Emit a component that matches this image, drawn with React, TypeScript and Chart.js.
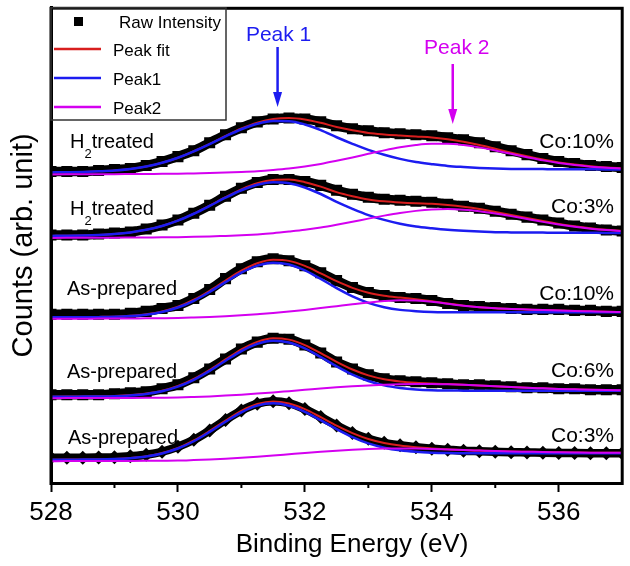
import { useEffect, useRef } from "react";
import { Chart, registerables } from "chart.js";

Chart.register(...registerables);

const FONT = "'Liberation Sans', Arial, Helvetica, sans-serif";

// Binding energy grid (eV)
const energies = [528, 528.25, 528.5, 528.75, 529, 529.25, 529.5, 529.75, 530, 530.25, 530.5, 530.75, 531, 531.25, 531.5, 531.75, 532, 532.25, 532.5, 532.75, 533, 533.25, 533.5, 533.75, 534, 534.25, 534.5, 534.75, 535, 535.25, 535.5, 535.75, 536, 536.25, 536.5, 536.75, 537];

// Spectrum A: H2 treated, Co:10% (offset counts)
const rawA = [314, 314, 314, 315, 316, 317, 320, 324, 329, 335, 343, 351, 358, 364, 367, 368, 367, 364, 360, 357, 355, 353, 352, 351, 350, 348, 346, 343, 339, 335, 331, 327, 324, 322, 320, 319, 318];
const fitA = [313.1, 313.3, 313.6, 314.2, 315.0, 316.6, 319.1, 322.8, 327.9, 334.4, 341.8, 349.8, 357.3, 363.3, 367.0, 368.0, 366.5, 363.1, 358.8, 355.5, 352.9, 351.4, 350.3, 349.3, 348.3, 346.4, 343.9, 340.7, 336.9, 333.0, 329.4, 326.0, 323.2, 321.0, 319.3, 318.0, 317.2];
const peak1A = [313.1, 313.3, 313.6, 314.2, 315.0, 316.6, 319.1, 322.8, 327.9, 334.3, 341.6, 349.4, 356.6, 362.1, 364.9, 364.7, 361.4, 355.7, 348.5, 341.9, 335.8, 330.9, 326.7, 323.5, 321.4, 319.6, 318.5, 317.6, 317.0, 316.6, 316.5, 316.4, 316.3, 316.3, 316.2, 316.1, 316.1];
const peak2A = [311.0, 311.1, 311.2, 311.3, 311.3, 311.4, 311.5, 311.6, 311.7, 312.1, 312.4, 312.9, 313.5, 314.3, 315.5, 317.0, 319.0, 321.6, 324.8, 328.2, 331.8, 335.3, 338.4, 340.7, 341.9, 341.9, 340.6, 338.3, 335.2, 331.8, 328.4, 325.2, 322.6, 320.5, 318.9, 317.8, 317.1];

// Spectrum B: H2 treated, Co:3%
const rawB = [250, 250, 250, 251, 252, 253, 256, 260, 265, 272, 280, 289, 297, 303, 306, 306, 304, 300, 295, 291, 288, 286, 285, 284, 283, 281, 279, 277, 274, 271, 268, 265, 262, 259, 257, 255, 254];
const fitB = [249.1, 249.3, 249.6, 250.1, 251.0, 252.6, 255.2, 259.1, 264.6, 271.6, 279.6, 288.2, 296.0, 302.1, 305.5, 305.9, 303.2, 298.7, 293.2, 289.1, 285.8, 283.9, 282.7, 281.9, 281.4, 280.2, 278.5, 276.2, 273.2, 270.2, 267.1, 264.0, 261.2, 258.8, 256.8, 255.2, 254.1];
const peak1B = [249.1, 249.3, 249.6, 250.1, 251.0, 252.6, 255.2, 259.1, 264.5, 271.4, 279.3, 287.6, 295.1, 300.6, 303.1, 302.2, 297.9, 291.3, 283.3, 276.3, 270.0, 265.2, 261.3, 258.5, 256.7, 255.2, 254.2, 253.5, 252.8, 252.6, 252.5, 252.4, 252.3, 252.3, 252.2, 252.1, 252.1];
const peak2B = [247.0, 247.1, 247.2, 247.3, 247.3, 247.4, 247.5, 247.6, 247.8, 248.1, 248.5, 249.1, 249.7, 250.6, 251.8, 253.4, 255.2, 257.6, 260.4, 263.4, 266.5, 269.5, 272.2, 274.3, 275.7, 276.1, 275.5, 274.0, 271.7, 269.0, 266.1, 263.2, 260.6, 258.3, 256.4, 255.0, 254.0];

// Spectrum C: As-prepared, Co:10%
const rawC = [170, 170, 170, 170, 170, 171, 173, 176, 179, 186, 195, 206, 216, 223, 226, 224, 219, 212, 204, 197, 192, 189, 187, 186, 184, 181, 179, 178, 177, 176, 175, 175, 175, 174, 174, 173, 173];
const fitC = [167.0, 167.1, 167.2, 167.4, 167.7, 168.6, 170.2, 173.0, 177.7, 184.7, 193.8, 204.1, 214.0, 221.5, 225.0, 223.9, 218.8, 211.3, 203.4, 196.7, 191.8, 188.8, 186.9, 185.2, 183.2, 180.9, 178.8, 177.2, 176.1, 175.4, 174.9, 174.4, 174.0, 173.5, 173.1, 172.7, 172.4];
const peak1C = [167.0, 167.0, 167.1, 167.2, 167.5, 168.3, 169.7, 172.4, 176.9, 183.7, 192.5, 202.5, 212.0, 219.1, 222.1, 220.3, 214.3, 205.7, 196.4, 188.1, 181.6, 177.2, 174.5, 173.2, 172.4, 172.1, 172.0, 172.0, 172.0, 172.0, 172.0, 172.0, 172.0, 172.0, 172.0, 172.0, 172.0];
const peak2C = [165.5, 165.6, 165.6, 165.7, 165.7, 165.8, 166.0, 166.1, 166.3, 166.8, 167.4, 168.2, 169.1, 170.2, 171.4, 172.9, 174.5, 176.3, 178.2, 180.1, 181.9, 183.4, 184.2, 183.9, 182.7, 180.7, 178.7, 177.2, 176.1, 175.4, 174.9, 174.4, 174.0, 173.5, 173.1, 172.7, 172.4];

// Spectrum D: As-prepared, Co:6%
const rawD = [89, 89, 89, 89, 90, 91, 92, 95, 99, 106, 115, 125, 135, 142, 146, 145, 139, 131, 122, 115, 109, 105, 103, 102, 101, 100, 99, 99, 98, 97, 96, 96, 95, 95, 94, 94, 94];
const fitD = [87.0, 87.1, 87.2, 87.4, 87.7, 88.6, 90.2, 93.0, 97.8, 104.9, 114.1, 124.6, 134.7, 142.3, 145.9, 144.5, 139.0, 130.9, 122.1, 114.4, 108.5, 104.6, 102.4, 101.1, 100.3, 99.7, 99.1, 98.3, 97.5, 96.7, 96.0, 95.4, 94.8, 94.4, 94.0, 93.7, 93.5];
const peak1D = [87.0, 87.0, 87.1, 87.2, 87.5, 88.3, 89.8, 92.5, 97.1, 104.0, 113.0, 123.2, 133.0, 140.3, 143.5, 141.7, 135.7, 127.0, 117.6, 109.3, 102.8, 98.4, 95.8, 94.3, 93.5, 93.2, 93.1, 93.0, 93.0, 93.0, 93.0, 93.0, 93.0, 93.0, 93.0, 93.0, 93.0];
const peak2D = [85.5, 85.6, 85.6, 85.7, 85.7, 85.8, 85.9, 86.0, 86.2, 86.7, 87.3, 88.1, 89.0, 90.1, 91.3, 92.6, 93.9, 95.3, 96.5, 97.5, 98.4, 99.1, 99.6, 99.8, 99.8, 99.5, 99.0, 98.3, 97.5, 96.7, 96.0, 95.4, 94.8, 94.4, 94.0, 93.7, 93.5];

// Spectrum E: As-prepared, Co:3%
const rawE = [25.5, 25.5, 25.5, 25.7, 26, 27, 28.5, 31.5, 36.5, 43.5, 53, 63.5, 73, 80, 82.5, 80.5, 74.5, 66.5, 58, 50.5, 44.5, 40.5, 38, 36, 34.5, 33.5, 32.5, 32, 31.5, 31, 30.8, 30.5, 30.3, 30.2, 30.1, 30, 30];
const fitE = [23.5, 23.6, 23.7, 23.9, 24.3, 25.3, 27.1, 30.3, 35.4, 42.9, 52.5, 63.0, 72.7, 79.6, 82.2, 80.1, 74.4, 66.3, 57.8, 50.3, 44.4, 40.4, 37.8, 36.1, 34.9, 34.0, 33.2, 32.7, 32.2, 31.8, 31.5, 31.2, 31.0, 30.8, 30.6, 30.5, 30.4];
const peak1E = [23.5, 23.5, 23.6, 23.7, 24.1, 25.0, 26.7, 29.8, 34.8, 42.1, 51.5, 61.8, 71.3, 78.0, 80.3, 77.9, 71.8, 63.3, 54.3, 46.3, 39.9, 35.6, 32.9, 31.4, 30.6, 30.2, 30.0, 30.0, 30.0, 30.0, 30.0, 30.0, 30.0, 30.0, 30.0, 30.0, 30.0];
const peak2E = [22.0, 22.1, 22.1, 22.2, 22.2, 22.3, 22.4, 22.5, 22.6, 23.1, 23.7, 24.5, 25.4, 26.5, 27.7, 29.0, 30.3, 31.5, 32.6, 33.5, 34.2, 34.7, 34.9, 34.7, 34.3, 33.8, 33.2, 32.7, 32.2, 31.8, 31.5, 31.2, 31.0, 30.8, 30.6, 30.5, 30.4];

const treatments = ["H2treated", "H2treated", "As-prepared", "As-prepared", "As-prepared"];
const cobalt = ["Co:10%", "Co:3%", "Co:10%", "Co:6%", "Co:3%"];
const legendLabels = ["Raw Intensity", "Peak fit", "Peak1", "Peak2"];
const peakNames = ["Peak 1", "Peak 2"];
const peakEnergies = [531.57, 534.33];
const minorTicks = [529, 531, 533, 535];
const xTitle = "Binding Energy (eV)";
const yTitle = "Counts (arb. unit)";

const RED = "#d81e1e";
const BLUE = "#1c1cf0";
const MAGENTA = "#d400f0";

export default function App() {
  const ref = useRef<HTMLCanvasElement | null>(null);

  useEffect(() => {
    if (!ref.current) return;
    const spectra = [
      { raw: rawA, fit: fitA, p1: peak1A, p2: peak2A, style: "rect" },
      { raw: rawB, fit: fitB, p1: peak1B, p2: peak2B, style: "rect" },
      { raw: rawC, fit: fitC, p1: peak1C, p2: peak2C, style: "rect" },
      { raw: rawD, fit: fitD, p1: peak1D, p2: peak2D, style: "rect" },
      { raw: rawE, fit: fitE, p1: peak1E, p2: peak2E, style: "rectRot" },
    ];
    const pts = (arr: number[]) => energies.map((x, i) => ({ x, y: arr[i] }));
    const datasets: any[] = [];
    spectra.forEach((s, k) => {
      const sq = s.style === "rect";
      datasets.push({
        label: legendLabels[0] + " " + k,
        data: pts(s.raw),
        borderColor: "#000",
        backgroundColor: "#000",
        borderWidth: sq ? 9.5 : 8.5,
        pointStyle: s.style,
        pointRadius: sq ? 7.8 : 7,
        pointBorderWidth: 0,
        pointBackgroundColor: "#000",
        cubicInterpolationMode: "monotone",
        order: 3,
      });
      datasets.push({
        label: legendLabels[1] + " " + k,
        data: pts(s.fit),
        borderColor: RED,
        borderWidth: 2,
        pointRadius: 0,
        cubicInterpolationMode: "monotone",
        order: 2,
      });
      datasets.push({
        label: legendLabels[2] + " " + k,
        data: pts(s.p1),
        borderColor: BLUE,
        borderWidth: 2.5,
        pointRadius: 0,
        cubicInterpolationMode: "monotone",
        order: 1,
      });
      datasets.push({
        label: legendLabels[3] + " " + k,
        data: pts(s.p2),
        borderColor: MAGENTA,
        borderWidth: 2,
        pointRadius: 0,
        cubicInterpolationMode: "monotone",
        order: 0,
      });
    });

    const decor = {
      id: "decor",
      afterDraw(chart: any) {
        const ctx = chart.ctx as CanvasRenderingContext2D;
        const a = chart.chartArea;
        const xs = chart.scales.x;
        ctx.save();
        // frame
        ctx.strokeStyle = "#000";
        ctx.lineWidth = 3;
        ctx.strokeRect(a.left, a.top + 0.5, a.right - a.left, a.bottom - a.top);
        // minor ticks
        ctx.lineWidth = 2;
        minorTicks.forEach((v) => {
          const px = xs.getPixelForValue(v);
          ctx.beginPath();
          ctx.moveTo(px, a.bottom);
          ctx.lineTo(px, a.bottom + 5);
          ctx.stroke();
        });
        // x axis title
        ctx.fillStyle = "#000";
        ctx.font = `26px ${FONT}`;
        ctx.textAlign = "center";
        ctx.textBaseline = "middle";
        ctx.fillText(xTitle, 352, 545);
        // legend box
        ctx.textBaseline = "alphabetic";
        const lx = a.left, ly = a.top, lw = 226 - a.left, lh = 120 - a.top;
        ctx.fillStyle = "#fff";
        ctx.fillRect(lx + 2, ly + 2, lw - 2, lh - 2);
        ctx.strokeStyle = "#333";
        ctx.lineWidth = 1.5;
        ctx.strokeRect(lx, ly, lw, lh);
        ctx.fillStyle = "#000";
        ctx.fillRect(74, 17, 9, 9);
        ctx.font = `17px ${FONT}`;
        ctx.textAlign = "left";
        ctx.fillText(legendLabels[0], 119, 28);
        const legendColors = [RED, BLUE, MAGENTA];
        const legendY = [49, 78, 107];
        for (let i = 0; i < 3; i++) {
          ctx.strokeStyle = legendColors[i];
          ctx.lineWidth = 2.5;
          ctx.beginPath();
          ctx.moveTo(54, legendY[i]);
          ctx.lineTo(101, legendY[i]);
          ctx.stroke();
          ctx.fillStyle = "#000";
          ctx.fillText(legendLabels[i + 1], 113, legendY[i] + 7);
        }
        // peak annotations
        const peakColors = [BLUE, MAGENTA];
        const textBase = [41, 54];
        const arrowTop = [47, 64];
        const arrowTip = [107, 124];
        for (let i = 0; i < 2; i++) {
          const px = xs.getPixelForValue(peakEnergies[i]);
          ctx.fillStyle = peakColors[i];
          ctx.strokeStyle = peakColors[i];
          ctx.font = `21px ${FONT}`;
          ctx.textAlign = "center";
          ctx.fillText(peakNames[i], px + (i === 0 ? 1 : 4), textBase[i]);
          ctx.lineWidth = 2.5;
          ctx.beginPath();
          ctx.moveTo(px, arrowTop[i]);
          ctx.lineTo(px, arrowTip[i] - 10);
          ctx.stroke();
          ctx.beginPath();
          ctx.moveTo(px - 4.5, arrowTip[i] - 15);
          ctx.lineTo(px + 4.5, arrowTip[i] - 15);
          ctx.lineTo(px, arrowTip[i]);
          ctx.closePath();
          ctx.fill();
        }
        // sample labels
        ctx.fillStyle = "#000";
        const leftBase = [148, 215, 295, 378, 444];
        const leftX = [70, 70, 67, 67, 68];
        treatments.forEach((t, i) => {
          ctx.textAlign = "left";
          if (t.startsWith("H2")) {
            ctx.font = `20px ${FONT}`;
            ctx.fillText("H", leftX[i], leftBase[i]);
            const wH = ctx.measureText("H").width;
            ctx.font = `13px ${FONT}`;
            ctx.fillText("2", leftX[i] + wH, leftBase[i] + 10);
            const w2 = ctx.measureText("2").width;
            ctx.font = `20px ${FONT}`;
            ctx.fillText(t.slice(2), leftX[i] + wH + w2, leftBase[i]);
          } else {
            ctx.font = `20px ${FONT}`;
            ctx.fillText(t, leftX[i], leftBase[i]);
          }
        });
        const rightBase = [148, 213, 300, 377, 442];
        ctx.font = `21px ${FONT}`;
        ctx.textAlign = "right";
        cobalt.forEach((c, i) => ctx.fillText(c, 614, rightBase[i]));
        ctx.restore();
      },
    };

    const chart = new Chart(ref.current, {
      type: "line",
      data: { datasets },
      options: {
        responsive: false,
        animation: false,
        devicePixelRatio: 1,
        events: [],
        layout: { padding: { top: 4, right: 4, left: 0, bottom: 0 } },
        plugins: { legend: { display: false }, tooltip: { enabled: false } },
        scales: {
          x: {
            type: "linear",
            min: 528,
            max: 537,
            afterFit: (s: any) => {
              s.height = 83;
            },
            ticks: {
              stepSize: 2,
              includeBounds: false,
              color: "#000",
              padding: 5,
              font: { family: FONT, size: 26 },
            },
            grid: { drawOnChartArea: false, drawTicks: true, tickLength: 9, tickWidth: 2, tickColor: "#000" },
            border: { display: true, color: "#000", width: 3 },
            title: { display: false, text: xTitle },
          },
          y: {
            min: 0,
            max: 479,
            afterFit: (s: any) => {
              s.width = 51;
            },
            ticks: { display: false },
            grid: { display: false },
            border: { display: true, color: "#000", width: 3 },
            title: {
              display: true,
              text: yTitle,
              color: "#000",
              font: { family: FONT, size: 29 },
              padding: { top: 7, bottom: 0 },
            },
          },
        },
      } as any,
      plugins: [decor],
    });
    return () => chart.destroy();
  }, []);

  return (
    <div style={{ position: "absolute", left: 0, top: 0, width: 630, height: 566, background: "#fff" }}>
      <canvas ref={ref} width={630} height={566} style={{ display: "block" }} />
    </div>
  );
}
